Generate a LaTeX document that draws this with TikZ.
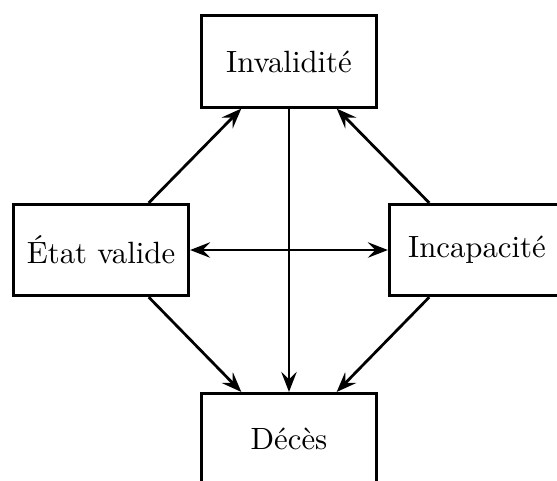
\documentclass[tikz,border=0pt]{standalone}
\usepackage{fontspec}
\usepackage{tikz}
\usetikzlibrary{arrows.meta}

\begin{document}
\begin{tikzpicture}[x=0.325pt, y=-0.325pt, >={Stealth[length=6.5pt,width=5pt,inset=2.4pt]},
      line width=0.9pt, every node/.append style={font=\rmfamily}]
    \tikzstyle{state} = [draw,rectangle,minimum width=57pt,minimum height=29.7pt]
    \useasboundingbox (0,0) rectangle (557,480);
    \node [state] (inval) at (289,61.5) {Invalidité};
    \node [state] (valide) at (101,250) {État valide};
    \node [state] (incap) at (477,250) {Incapacité};
    \node [state] (deces) at (289,439) {Décès};
    \draw [->] (inval) -- (deces);
    \draw [<->] (valide) -- (incap);
    \draw [->] ([xshift=15.5pt]valide.north) -- ([xshift=-15.5pt]inval.south);
    \draw [->] ([xshift=-15.5pt]incap.north) -- ([xshift=15.5pt]inval.south);
    \draw [->] ([xshift=15.5pt]valide.south) -- ([xshift=-15.5pt]deces.north);
    \draw [->] ([xshift=-15.5pt]incap.south) -- ([xshift=15.5pt]deces.north);
  \end{tikzpicture}
\end{document}
